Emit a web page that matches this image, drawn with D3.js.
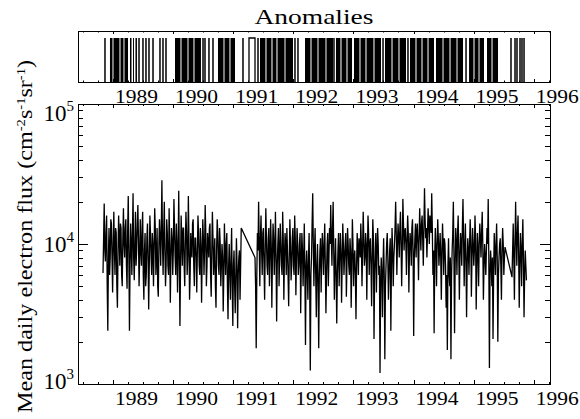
<!DOCTYPE html>
<html><head><meta charset="utf-8">
<script src="https://cdn.jsdelivr.net/npm/d3@7"></script>
<style>body{margin:0;background:#fff}svg text{font-family:"Liberation Serif","DejaVu Serif",serif;fill:#000}</style>
</head><body>
<svg id="c" width="580" height="419"></svg>
<script>
// ---------- data ----------
const yearTicks = [1989, 1990, 1991, 1992, 1993, 1994, 1995, 1996];
const yTickValues = [1e3, 1e4, 1e5];
const yTickExponents = ["3", "4", "5"];
const fluxStep = 0.01; // years between samples
// mean daily electron flux, in units of 10^3 cm^-2 s^-1 sr^-1
const fluxStartA = 1988.834;
const fluxA = [6.2,11,19.5,9,7.5,12,16,5,2.4,8,13,6,8,15,
 14,8,4.5,10,17,9,6,13,12,5,3.5,9,16,11,7,14,13,6,5,11,18,10,8,13,15,7,4.8,12,
 22,9,2.4,7,14,10,6,12,23,8,5.5,10,17,7,
 9,14,19,11,5,8,15,9,7,13,17,6,4,9,12,5,6,11,14,8,3.4,7,16,12,8,6,12,10,5,9,18,13,6,8,13,5,4.2,10,15,11,7,13,
 28.5,10,6,12,
 20,9,5,7,15,12,7,6,18,10,3.8,8,13,11,6,9,21,13,8,6,14,10,4.5,9,
 24,8,2.6,7,16,11,7,13,
 13,7,5,10,17,12,6,8,22,11,4,6,12,9,8,14,15,7,5,11,
 11,8,4.5,9,16,12,7,6,13,10,3.8,8,15,11,6,9,19,12,5,7,12,10,8,13,14,6,4.2,9,17,11,6,8,11,5,3.5,9,15,12,7,6,13,10,5,7,10,8,3.3,6,14,9,
 6,10,12,5,2.9,7,10,6,4,8,13,5,2.6,7,9,5,3.2,6,11,7,2.5,6,8,9,4,7,13];
const fluxStartB = 1991.363;
const fluxB = [8,5,1.8,6,12,9,20,10,5,11,
 16,9,6,12,13,7,4,9,18,11,7,6,11,13,5,8,15,10,3.5,8,14,11,6,9,17,8,
 2.8,7,
 10,13,5,8,14,10,7,6,17,11,4,8,12,10,6,13,9,6,3.6,8,15,10,5.5,7,11,13,7,6,16,11,4.3,8,13,10,6,7,10,12,3.2,7,12,9,5,8,14,6,
 1.9,7,9,6,4,8,12,5,1.25,6,8,14,23,10,5,9,13,6,3,7,10,5,
 1.8,6,9,11,4.5,8,12,9,6,10,14,7,3.2,6,10,12,5,8,13,10,19,11,7,13,20,9,4,7,11,6,2.7,6,9,12,5,8,12,9,3.8,7,14,10,6,8,10,12,4.2,7,13,10,7,6,11,9,3.5,7,15,10,5,8,9,6,2.9,7,12,9,6,11,10,8,
 14,10,5,9,17,11,7,8,12,10,4,9,16,12,6,10,11,7,3.6,8,15,11,2.1,6,9,12,4.5,8,13,10,6,7,
 1.2,5,8,6,3,7,11,6,1.5,5,7,10,12,8,4,6,9,11,2.4,7,13,9,5,8,10,13,
 20,12,6,10,14,11,8,13,17,10,5,9,21,14,9,12,13,10,6,11,16,12,4.5,9,12,10,7,13,15,9,2.2,8,11,14,8,12,14,10,5.5,11,18,12,
 9,14,16,11,7,13,25,15,11,13,8,12,18,14,10,16,14,12,23,13,6,9,2.3,8,
 13,9,5,10,15,11,7,9,12,8,4,9,14,10,6,11,10,7,3.5,6,
 1.75,7,11,6,5,8,1.5,6,9,12,
 20,8,2.3,7,13,10,6,12,16,9,4,8,12,10,7,13,21,11,5,9,14,8,3,7,
 11,9,6,10,15,11,4.2,8,13,10,7,9,16,11,3.4,7,12,9,5,10,14,11,8,12,17,10,4,7,10,8,6,9,13,10,
 21,8,1.3,6,9,7,5,8,2.1,6,12,9,6,10,14,8,2,6,8,10,11,7,4,9,13,10,6,8,9.5];
const fluxStartC = 1995.639;
const fluxC = [5.8,9,14,8,4,10,20,11,7,12,16,9,3.5,7,12,9,5,10,15,8,3,6,9,7,5.5];
// anomalies
const anomalyDays = [1988.867,1989.433,1989.499,1989.549,1989.599,1989.666,1989.782,1989.832,1989.882,
 1990.498,1990.531,1990.597,1990.664,1991.163,1991.413,1992.028,1992.078,1992.677,1993.493,1993.908,
 1994.874,1995.622,1995.689,1995.722,1995.772,1995.805,1995.839];
const anomalyBlocks = [
 [1988.950,1988.992],[1989.008,1989.108],[1989.125,1989.175],[1989.191,1989.250],
 [1989.283,1989.308],[1989.333,1989.349],[1989.374,1989.399],
 [1990.032,1990.123],[1990.140,1990.240],[1990.256,1990.339],[1990.356,1990.464],
 [1990.747,1990.839],[1990.855,1990.938],[1990.955,1991.030],
 [1991.446,1991.537],[1991.554,1991.637],[1991.654,1991.720],[1991.737,1991.854],[1991.870,1991.995],
 [1992.195,1992.286],[1992.303,1992.403],[1992.419,1992.536],[1992.552,1992.661],
 [1992.710,1992.785],[1992.802,1992.885],[1992.902,1992.977],
 [1993.010,1993.101],[1993.118,1993.201],[1993.218,1993.334],[1993.351,1993.459],
 [1993.526,1993.634],[1993.651,1993.750],[1993.767,1993.875],
 [1993.942,1994.033],[1994.050,1994.133],[1994.150,1994.233],[1994.250,1994.341],
 [1994.374,1994.483],[1994.499,1994.599],[1994.616,1994.716],[1994.732,1994.824],
 [1994.924,1994.998],[1995.015,1995.082],[1995.098,1995.173],
 [1995.223,1995.298],[1995.315,1995.406]];
const anomalyRuns = [[1991.263,1991.363]];

// ---------- layout ----------
const L = 78, R = 550, T = 104, B = 384;
const aT = 31, aB = 82, aTop = 38;
const svg = d3.select("#c");

const x = d3.scaleLinear().domain([1988.418, 1996.271]).range([L, R]);
const y = d3.scaleLog().domain([1e3, 1e5]).range([B, T]);
const ya = d3.scaleLinear().domain([0, 1]).range([aB, aTop]);

// ---------- flux line ----------
const pts = [];
[[fluxStartA, fluxA], [fluxStartB, fluxB], [fluxStartC, fluxC]].forEach(([s, arr]) => {
  arr.forEach((v, i) => pts.push([s + i * fluxStep, v * 1000]));
});
svg.append("path").datum(pts)
  .attr("d", d3.line().x(d => x(d[0])).y(d => y(d[1])))
  .attr("fill", "none").attr("stroke", "#000").attr("stroke-width", 1.3)
  .attr("stroke-linejoin", "miter").attr("stroke-miterlimit", 2);

// ---------- anomalies ----------
svg.selectAll("rect.blk").data(anomalyBlocks).join("rect").attr("class", "blk")
  .attr("x", d => x(d[0])).attr("width", d => x(d[1]) - x(d[0]))
  .attr("y", ya(1)).attr("height", ya(0) - ya(1)).attr("fill", "#000");
svg.selectAll("line.day").data(anomalyDays).join("line").attr("class", "day")
  .attr("x1", d => x(d)).attr("x2", d => x(d)).attr("y1", ya(0)).attr("y2", ya(1))
  .attr("stroke", "#000").attr("stroke-width", 1.5);
svg.selectAll("path.run").data(anomalyRuns).join("path").attr("class", "run")
  .attr("d", d => `M${x(d[0])},${ya(0)}V${ya(1)}H${x(d[1])}V${ya(0)}`)
  .attr("fill", "none").attr("stroke", "#000").attr("stroke-width", 1.3);

// ---------- frames ----------
svg.append("rect").attr("x", L + 0.5).attr("y", T + 0.5).attr("width", R - L).attr("height", B - T)
  .attr("fill", "none").attr("stroke", "#000");
svg.append("rect").attr("x", L + 0.5).attr("y", aT + 0.5).attr("width", R - L).attr("height", aB - aT)
  .attr("fill", "none").attr("stroke", "#000");

// ---------- x ticks ----------
const minorX = d3.range(Math.ceil(x.domain()[0] * 4), Math.floor(x.domain()[1] * 4) + 1).map(q => q / 4)
  .filter(v => !yearTicks.includes(v));
function xTicks(yPos, dir, major, minor) {
  const g = svg.append("g").attr("stroke", "#000");
  g.selectAll("line.mj").data(yearTicks).join("line")
    .attr("x1", d => Math.round(x(d)) + 0.5).attr("x2", d => Math.round(x(d)) + 0.5)
    .attr("y1", yPos).attr("y2", yPos + dir * major);
  g.selectAll("line.mn").data(minorX).join("line").attr("class", "mn")
    .attr("x1", d => Math.round(x(d)) + 0.5).attr("x2", d => Math.round(x(d)) + 0.5)
    .attr("y1", yPos).attr("y2", yPos + dir * minor);
}
xTicks(B, -1, 4, 2);
xTicks(T, 1, 4, 2);
xTicks(aB, -1, 3, 1.5);
xTicks(aT, 1, 3, 1.5);

function xLabels(baseY) {
  svg.append("g").selectAll("text").data(yearTicks).join("text")
    .attr("x", d => x(d) + 2).attr("y", baseY)
    .attr("text-anchor", "start").attr("font-size", 19)
    .attr("textLength", 43).attr("lengthAdjust", "spacingAndGlyphs")
    .text(d => d);
}
xLabels(405);
xLabels(103);

// ---------- y ticks ----------
const minorY = [];
[1e3, 1e4].forEach(dec => { for (let k = 2; k <= 9; k++) minorY.push(dec * k); });
const gy = svg.append("g").attr("stroke", "#000");
[[L, 1], [R, -1]].forEach(([xp, dir]) => {
  gy.append("g").selectAll("line").data(yTickValues).join("line")
    .attr("x1", xp).attr("x2", xp + dir * 10)
    .attr("y1", d => Math.round(y(d)) + 0.5).attr("y2", d => Math.round(y(d)) + 0.5);
  gy.append("g").selectAll("line").data(minorY).join("line")
    .attr("x1", xp).attr("x2", xp + dir * 5)
    .attr("y1", d => Math.round(y(d)) + 0.5).attr("y2", d => Math.round(y(d)) + 0.5);
});
const yl = svg.append("g").selectAll("text").data(yTickValues).join("text")
  .attr("x", 74).attr("y", d => Math.min(389, Math.max(121, y(d) + 8)))
  .attr("text-anchor", "end").attr("font-size", 23);
yl.append("tspan").text("10");
yl.append("tspan").attr("font-size", 15).attr("dy", -10).text((d, i) => yTickExponents[i]);

// ---------- titles ----------
svg.append("text").attr("x", (L + R) / 2).attr("y", 24).attr("text-anchor", "middle")
  .attr("font-size", 21).attr("textLength", 119).attr("lengthAdjust", "spacingAndGlyphs").text("Anomalies");

const yt = svg.append("text").attr("transform", "translate(32,236.5) rotate(-90)")
  .attr("text-anchor", "middle").attr("font-size", 20)
  .attr("textLength", 353).attr("lengthAdjust", "spacingAndGlyphs");
yt.append("tspan").text("Mean daily electron flux (cm");
yt.append("tspan").attr("font-size", 12).attr("dy", -7).text("-2");
yt.append("tspan").attr("dy", 7).text("s");
yt.append("tspan").attr("font-size", 12).attr("dy", -7).text("-1");
yt.append("tspan").attr("dy", 7).text("sr");
yt.append("tspan").attr("font-size", 12).attr("dy", -7).text("-1");
yt.append("tspan").attr("dy", 7).text(")");
</script>
</body></html>
